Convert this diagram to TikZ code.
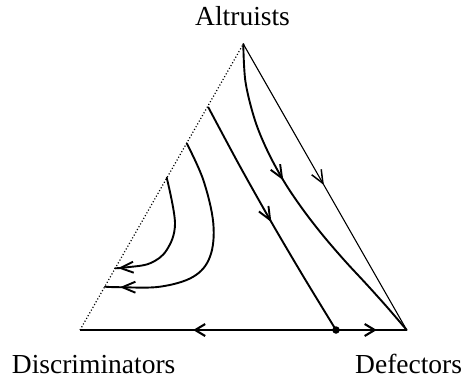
\documentclass[tikz,border=0pt]{standalone}
\usepackage{fontspec}
\setmainfont{Liberation Serif}
\usetikzlibrary{arrows.meta,decorations.markings}
\tikzset{
  lbl/.style={anchor=base west,inner sep=0pt,font=\fontsize{27.5pt}{30pt}\selectfont},
  traj/.style={line width=1.9pt,line cap=round},
  edgethin/.style={line width=1.1pt},
  edgedot/.style={line width=1.2pt,dash pattern=on 1.1pt off 2.1pt},
  baseln/.style={line width=2.2pt},
  fixdot/.style={circle,fill=black,inner sep=0pt,minimum size=7.5pt},
  midbarb/.style={postaction={decorate},decoration={markings,
     mark=at position #1 with {\arrow{Straight Barb[length=13pt,width=11pt,line width=1.9pt]}}}},
  thinbarb/.style={postaction={decorate},decoration={markings,
     mark=at position #1 with {\arrow{Straight Barb[length=13pt,width=11pt,line width=1.5pt]}}}},
  smallbarb/.style={postaction={decorate},decoration={markings,
     mark=at position #1 with {\arrow{Straight Barb[length=10pt,width=12pt,line width=2.1pt]}}}},
}
\begin{document}
\begin{tikzpicture}[x=1pt,y=-1pt]
\useasboundingbox (0,0) rectangle (462,380);
% corners
\coordinate (A) at (243.3,44);
\coordinate (D) at (80,330);
\coordinate (F) at (406.7,330);
% starting points on the dotted edge
\coordinate (s2) at (208.3,107.3);
\coordinate (s3) at (186.7,143.3);
\coordinate (s4) at (166.7,177.7);
\coordinate (e3) at (105,286.7);
\coordinate (e4) at (115,268.3);
% labels
\node[lbl] (la) at (195,25) {Altruists};
\node[lbl] (ld) at (11.7,373.3) {Discriminators};
\node[lbl] (lf) at (355,373.3) {Defectors};
% edges
\draw[edgedot] (D) -- (A);
\draw[edgethin,thinbarb=0.493] (A) -- (F);
% fixed point on the base
\node[fixdot] (E) at (336,330) {};
\draw[baseln,smallbarb=0.558] (E.center) -- (D);
\draw[baseln,smallbarb=0.576] (E.center) -- (F);
% trajectories
\draw[traj,midbarb=144pt] plot[smooth,tension=0.55] coordinates
  {(A) (245.5,82) (255,120.4) (268,152) (285,183.1) (304,211) (323.7,236.3) (345,261) (366.3,284) (387,307) (F)};
\draw[traj,midbarb=131pt] plot[smooth,tension=0.5] coordinates
  {(s2) (239.5,165.5) (271.7,222.7) (303.5,276.7) (E.center)};
\draw[traj,midbarb=-15pt] plot[smooth,tension=0.6] coordinates
  {(s3) (203.3,180) (213.3,223.3) (210,256.7) (193.3,276.7) (160,286.7) (120,287.2) (e3)};
\draw[traj,midbarb=-3pt] plot[smooth,tension=0.6] coordinates
  {(s4) (175,223.3) (166.7,250) (150,263.3) (126.7,267.3) (e4)};
\end{tikzpicture}
\end{document}
